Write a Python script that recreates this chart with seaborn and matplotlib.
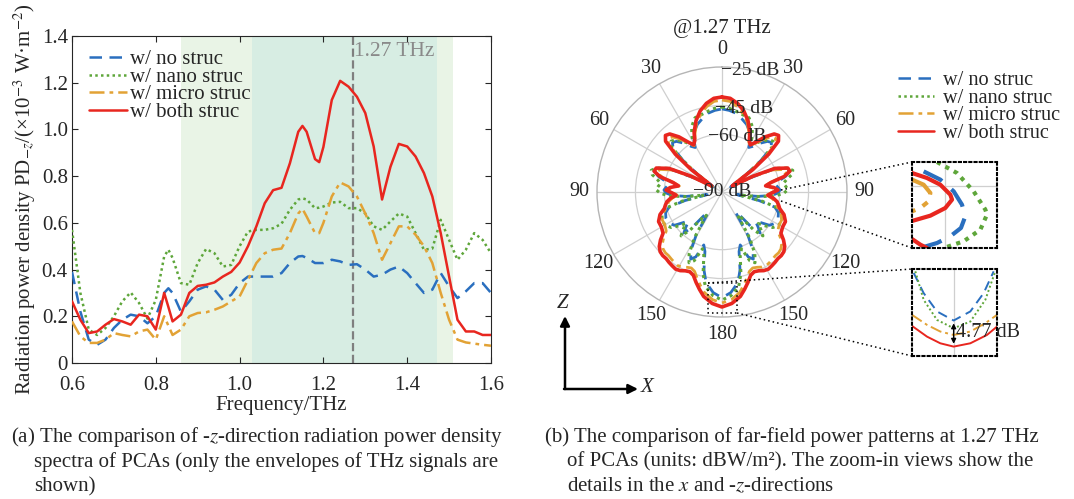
import numpy as np
import pandas as pd
import seaborn as sns
import matplotlib.pyplot as plt
from matplotlib.ticker import FuncFormatter

sns.set_style("ticks")
plt.rcParams['font.family'] = ['Liberation Serif', 'DejaVu Sans']
plt.rcParams['mathtext.fontset'] = 'stix'

# ---------------------------------------------------------
# DATA (a): spectra, x10^-3 W/m^2
# ---------------------------------------------------------
freq = [0.60, 0.62, 0.64, 0.66, 0.68, 0.70, 0.72, 0.74, 0.76, 0.78, 0.80, 0.82, 0.83,
        0.84, 0.86, 0.88, 0.90, 0.92, 0.94, 0.96, 0.98, 1.00, 1.02, 1.04, 1.06, 1.08,
        1.10, 1.12, 1.14, 1.15, 1.16, 1.18, 1.19, 1.20, 1.22, 1.24, 1.26, 1.28, 1.30,
        1.32, 1.34, 1.36, 1.38, 1.40, 1.42, 1.44, 1.46, 1.48, 1.50, 1.52, 1.54, 1.56,
        1.58, 1.60]
pd_none = [0.390, 0.220, 0.100, 0.078, 0.100, 0.150, 0.185, 0.207, 0.200, 0.170, 0.200, 0.300, 0.320,
           0.300, 0.220, 0.264, 0.314, 0.328, 0.314, 0.270, 0.292, 0.342, 0.370, 0.370, 0.370, 0.370,
           0.385, 0.428, 0.456, 0.458, 0.450, 0.428, 0.428, 0.428, 0.442, 0.435, 0.420, 0.423, 0.400,
           0.370, 0.378, 0.400, 0.413, 0.385, 0.342, 0.300, 0.314, 0.385, 0.328, 0.278, 0.307, 0.342,
           0.342, 0.300]
pd_nano = [0.570, 0.300, 0.143, 0.120, 0.150, 0.200, 0.264, 0.302, 0.257, 0.190, 0.270, 0.456, 0.485,
           0.450, 0.342, 0.335, 0.428, 0.488, 0.470, 0.413, 0.420, 0.500, 0.563, 0.570, 0.570, 0.577,
           0.596, 0.656, 0.700, 0.705, 0.700, 0.663, 0.665, 0.670, 0.687, 0.690, 0.663, 0.663, 0.640,
           0.585, 0.570, 0.606, 0.640, 0.627, 0.556, 0.485, 0.490, 0.613, 0.527, 0.442, 0.485, 0.556,
           0.527, 0.470]
pd_micro = [0.178, 0.114, 0.086, 0.086, 0.100, 0.128, 0.120, 0.114, 0.135, 0.143, 0.100, 0.200, 0.160,
            0.120, 0.143, 0.200, 0.214, 0.217, 0.228, 0.242, 0.264, 0.285, 0.356, 0.428, 0.470, 0.485,
            0.490, 0.556, 0.640, 0.660, 0.627, 0.556, 0.556, 0.600, 0.713, 0.773, 0.756, 0.713, 0.640,
            0.556, 0.442, 0.513, 0.585, 0.585, 0.549, 0.500, 0.428, 0.300, 0.185, 0.100, 0.088, 0.083,
            0.078, 0.074]
pd_both = [0.264, 0.185, 0.128, 0.135, 0.164, 0.188, 0.178, 0.164, 0.207, 0.200, 0.143, 0.300, 0.240,
           0.178, 0.207, 0.300, 0.330, 0.335, 0.345, 0.370, 0.390, 0.430, 0.500, 0.585, 0.684, 0.740,
           0.750, 0.855, 0.990, 1.015, 0.990, 0.873, 0.860, 0.925, 1.126, 1.208, 1.183, 1.140, 1.070,
           0.927, 0.700, 0.840, 0.938, 0.927, 0.884, 0.813, 0.713, 0.556, 0.370, 0.185, 0.135, 0.135,
           0.120, 0.120]

band_outer = (0.86, 1.51)
band_inner = (1.03, 1.47)
f_mark = 1.27

# ---------------------------------------------------------
# DATA (b): far-field pattern, dB (half pattern 0..180 deg, symmetric)
# ---------------------------------------------------------
ang = [0, 5, 10, 15, 20, 25, 28, 31, 34, 38, 42, 45, 48, 51, 54, 57, 60, 63, 66, 70, 73, 76, 79,
       82, 85, 88, 91, 94, 97, 100, 103, 106, 110, 115, 120, 125, 128, 131, 134, 137, 140, 143,
       146, 149, 152, 155, 158, 161, 164, 167, 170, 175, 180]
ff_none = [-46.8, -47.4, -48.4, -50.5, -52.6, -55.7, -58.8, -63.0, -61.4, -57.8, -54.6, -53.6, -55.7,
           -64.0, -74.4, -83.8, -84.8, -74.4, -61.4, -55.7, -53.6, -55.7, -59.8, -61.9, -60.9, -59.8,
           -60.9, -64.0, -71.3, -82.2, -70.2, -61.4, -58.8, -57.8, -57.8, -59.8, -64.0, -67.1, -64.0,
           -60.9, -66.1, -75.4, -77.5, -64.0, -55.7, -51.5, -53.6, -60.9, -57.8, -48.4, -42.2, -37.5,
           -35.0]
ff_nano = [-45.8, -46.3, -47.4, -48.4, -48.9, -52.6, -56.7, -60.9, -59.8, -56.2, -53.6, -52.6, -54.6,
           -63.0, -73.4, -82.7, -83.8, -72.8, -59.8, -53.6, -51.5, -52.6, -55.7, -57.8, -56.7, -55.7,
           -57.8, -61.9, -70.2, -80.6, -68.2, -59.8, -56.7, -55.7, -55.7, -57.8, -61.4, -65.0, -61.9,
           -58.8, -64.0, -73.4, -75.4, -61.9, -53.6, -49.4, -51.5, -58.8, -55.7, -46.3, -40.1, -35.9,
           -33.8]
ff_micro = [-42.2, -42.7, -44.8, -47.9, -51.5, -56.7, -60.4, -61.9, -59.8, -55.2, -51.5, -50.5, -52.6,
            -60.9, -72.3, -82.7, -84.3, -73.4, -61.9, -55.7, -54.6, -57.8, -64.5, -67.6, -64.0, -61.9,
            -64.5, -66.6, -64.0, -61.9, -60.9, -59.8, -57.2, -55.7, -55.7, -54.6, -51.5, -48.9, -47.4,
            -46.8, -46.8, -46.3, -45.8, -45.3, -45.8, -46.8, -47.4, -46.3, -43.2, -40.1, -37.0, -33.8,
            -32.3]
ff_both = [-40.6, -41.1, -43.2, -46.3, -50.5, -55.7, -59.8, -61.4, -58.8, -53.6, -49.4, -48.4, -50.5,
           -58.8, -70.2, -81.7, -83.8, -71.8, -59.8, -53.6, -53.1, -56.7, -64.0, -67.1, -63.0, -60.9,
           -64.0, -66.1, -63.0, -60.9, -59.8, -58.8, -55.7, -53.6, -53.6, -52.6, -49.4, -46.8, -45.3,
           -44.8, -44.8, -44.2, -43.7, -43.2, -43.7, -44.8, -45.3, -44.2, -41.1, -38.0, -34.9, -31.8,
           -30.2]
r_ticks = [-90, -60, -45, -25]

# zoom-in views (box coords 0..1)
zx_none_x = [0.137, 0.333, 0.490, 0.588, 0.627, 0.576, 0.451, 0.294, 0.098]
zx_none_y = [0.891, 0.795, 0.659, 0.504, 0.368, 0.233, 0.136, 0.058, 0.000]
zx_nano_x = [0.294, 0.529, 0.725, 0.863, 0.882, 0.804, 0.608, 0.373]
zx_nano_y = [1.000, 0.872, 0.659, 0.446, 0.388, 0.213, 0.078, 0.000]
zx_micro_x = [0.000, 0.137, 0.216, 0.196, 0.098, 0.000]
zx_micro_y = [0.795, 0.736, 0.640, 0.543, 0.465, 0.426]
zx_both_x = [0.000, 0.176, 0.333, 0.451, 0.471, 0.392, 0.216, 0.000]
zx_both_y = [0.872, 0.814, 0.736, 0.620, 0.562, 0.465, 0.376, 0.314]
zx_both2_x = [0.000, 0.098, 0.176]
zx_both2_y = [0.105, 0.039, 0.000]

zz_none_x = [0.020, 0.137, 0.294, 0.490, 0.686, 0.843, 0.961]
zz_none_y = [0.954, 0.723, 0.512, 0.408, 0.512, 0.723, 0.973]
zz_nano_x = [0.039, 0.137, 0.294, 0.490, 0.686, 0.863, 0.980]
zz_nano_y = [0.973, 0.646, 0.415, 0.319, 0.396, 0.646, 0.973]
zz_micro_x = [0.000, 0.176, 0.333, 0.490, 0.686, 0.863, 1.000]
zz_micro_y = [0.473, 0.358, 0.281, 0.242, 0.281, 0.377, 0.473]
zz_both_x = [0.000, 0.176, 0.333, 0.490, 0.686, 0.882, 1.000]
zz_both_y = [0.346, 0.223, 0.146, 0.108, 0.146, 0.242, 0.338]

labels = ['w/ no struc', 'w/ nano struc', 'w/ micro struc', 'w/ both struc']
colors = ['#2a6fbf', '#5ea63a', '#e2a235', '#e8261f']
dash_pat = [(5, 3), (1, 1.3), (6, 2, 1.5, 2), None]

W, H = 1074, 499
def box(l, t, r, b):
    return [l / W, 1 - b / H, (r - l) / W, (b - t) / H]

def style_line(line, i):
    if dash_pat[i] is not None:
        line.set_dashes(dash_pat[i])

fig = plt.figure(figsize=(W / 100, H / 100), dpi=100)

# ---------------------------------------------------------
# (a) spectra
# ---------------------------------------------------------
ax = fig.add_axes(box(72, 36, 491, 363))
ax.axvspan(*band_outer, color='#e9f4e6', lw=0, zorder=0)
ax.axvspan(*band_inner, color='#d7ede3', lw=0, zorder=0)
ax.axvline(f_mark, color='#7f7f7f', ls='--', lw=1.6, zorder=1)
ax.text(f_mark + 0.004, 1.335, '1.27 THz', color='#8a8a8a', fontsize=15.5, va='center', ha='left')

series = [pd_none, pd_nano, pd_micro, pd_both]
handles = []
for i, vals in enumerate(series):
    n0 = len(ax.lines)
    sns.lineplot(x=freq, y=vals, ax=ax, color=colors[i], lw=1.8, sort=False, estimator=None, zorder=3 + i)
    ln = ax.lines[n0]
    style_line(ln, i)
    handles.append(ln)

ax.set_xlim(0.6, 1.6)
ax.set_ylim(0, 1.4)
ax.set_xticks(np.arange(0.6, 1.61, 0.2))
ax.set_yticks(np.arange(0, 1.41, 0.2))
ax.xaxis.set_major_formatter(FuncFormatter(lambda v, p: f'{v:.1f}'))
ax.yaxis.set_major_formatter(FuncFormatter(lambda v, p: '0' if abs(v) < 1e-9 else f'{v:.1f}'))
ax.tick_params(direction='in', top=True, right=True, labelsize=15, length=4, width=0.8, pad=3)
ax.tick_params(axis='x', pad=9)
for s in ax.spines.values():
    s.set_linewidth(0.8)
ax.set_xlabel('Frequency/THz', fontsize=15, labelpad=1)
ax.set_ylabel('Radiation power density PD$_{-z}$/(×10$^{-3}$ W·m$^{-2}$)', fontsize=15, labelpad=3)
ax.legend(handles, labels, loc='upper left', bbox_to_anchor=(0.01, 0.996), frameon=False,
          fontsize=15, handlelength=1.85, handletextpad=0.15, labelspacing=-0.1, borderaxespad=0.2)

# ---------------------------------------------------------
# (b) far-field polar pattern
# ---------------------------------------------------------
axp = fig.add_axes(box(597, 67, 847, 317), projection='polar')
axp.set_theta_zero_location('N')
axp.set_theta_direction(-1)
ang_a = np.array(ang, dtype=float)
theta_full = np.deg2rad(np.concatenate([ang_a, 360 - ang_a[::-1][1:]]))
ff_series = [ff_none, ff_nano, ff_micro, ff_both]
widths = [2.0, 2.2, 2.0, 2.6]
for i, vals in enumerate(ff_series):
    v = np.array(vals)
    r_full = np.concatenate([v, v[::-1][1:]])
    n0 = len(axp.lines)
    sns.lineplot(x=theta_full, y=r_full, ax=axp, color=colors[i], lw=widths[i], sort=False,
                 estimator=None, zorder=3 + i)
    style_line(axp.lines[n0], i)

axp.set_ylim(r_ticks[0], r_ticks[-1])
axp.set_yticks(r_ticks[1:3])
axp.set_yticklabels([])
axp.set_xticks(np.deg2rad(np.arange(0, 360, 30)))
axp.set_xticklabels(['0', '30', '60', '90', '120', '150', '180', '150', '120', '90', '60', '30'])
axp.tick_params(axis='x', labelsize=14.5, pad=2)
axp.grid(True, color='#cfcfcf', lw=0.9)
axp.spines['polar'].set_color('#b5b5b5')
axp.spines['polar'].set_linewidth(1.0)
axp.set_xlabel('')
axp.set_ylabel('')
for rv, off in zip(r_ticks, [0, 15, 15, 13]):
    txt = f'\u2212{abs(rv)} dB'
    axp.text(np.deg2rad(off), rv, txt, fontsize=14, ha='center', va='center', zorder=10)

fig.legend(handles, labels, loc='upper left', bbox_to_anchor=(890 / W, 1 - 63 / H), frameon=False,
           fontsize=14.6, handlelength=1.75, handletextpad=0.45, labelspacing=-0.08, borderaxespad=0)

# zoom-in views
ax1 = fig.add_axes(box(912, 162, 997, 248))
ax1.axvline(0.39, color='#cfcfcf', lw=0.9)
ax1.axhline(0.72, color='#cfcfcf', lw=0.9)
for i, (xs, ys) in enumerate([(zx_none_x, zx_none_y), (zx_nano_x, zx_nano_y),
                              (zx_micro_x, zx_micro_y), (zx_both_x, zx_both_y), (zx_both2_x, zx_both2_y)]):
    k = min(i, 3)
    n0 = len(ax1.lines)
    sns.lineplot(x=xs, y=ys, ax=ax1, color=colors[k], lw=3.0, sort=False, estimator=None)
    style_line(ax1.lines[n0], k)

ax2 = fig.add_axes(box(912, 269, 997, 356))
ax2.axvline(0.49, color='#cfcfcf', lw=0.9)
for i, (xs, ys) in enumerate([(zz_none_x, zz_none_y), (zz_nano_x, zz_nano_y),
                              (zz_micro_x, zz_micro_y), (zz_both_x, zz_both_y)]):
    n0 = len(ax2.lines)
    sns.lineplot(x=xs, y=ys, ax=ax2, color=colors[i], lw=1.4, sort=False, estimator=None)
    style_line(ax2.lines[n0], i)
ax2.annotate('', xy=(0.49, zz_both_y[3]), xytext=(0.49, zz_none_y[3]),
             arrowprops=dict(arrowstyle='<|-|>', lw=1.0, color='k', mutation_scale=7))
ax2.text(0.52, 0.27, '4.77 dB', fontsize=14.5, ha='left', va='center', clip_on=False, zorder=10)

for a in (ax1, ax2):
    a.set_xlim(0, 1)
    a.set_ylim(0, 1)
    a.set_xticks([])
    a.set_yticks([])
    a.set_xlabel('')
    a.set_ylabel('')
    for s in a.spines.values():
        s.set_linestyle((0, (1, 1.5)))
        s.set_linewidth(1.5)
        s.set_color('k')

# overlay: title, connectors, axes arrows, captions (pixel coords)
ov = fig.add_axes([0, 0, 1, 1])
ov.set_xlim(0, W)
ov.set_ylim(H, 0)
ov.axis('off')
ov.patch.set_alpha(0)
ov.text(722, 28, '@1.27 THz', fontsize=15, ha='center', va='center')

dot = dict(color='k', ls=(0, (1, 2)), lw=1.1)
ov.plot([781, 912], [190, 162], **dot)
ov.plot([781, 912], [201, 248], **dot)
ov.plot([708, 737, 737, 708, 708], [283, 283, 313, 313, 283], **dot)
ov.plot([708, 912], [283, 269], **dot)
ov.plot([737, 912], [313, 356], **dot)

ov.annotate('', xy=(565, 316), xytext=(565, 389),
            arrowprops=dict(arrowstyle='-|>', lw=1.8, color='k', mutation_scale=14, shrinkA=0, shrinkB=0))
ov.annotate('', xy=(638, 389), xytext=(564, 389),
            arrowprops=dict(arrowstyle='-|>', lw=1.8, color='k', mutation_scale=14, shrinkA=0, shrinkB=0))
ov.text(563, 304, 'Z', fontsize=15, style='italic', ha='center', va='center')
ov.text(647, 388, 'X', fontsize=15, style='italic', ha='center', va='center')

cap = dict(fontsize=15, ha='left', va='center')
ov.text(11, 437, '(a) The comparison of -$z$-direction radiation power density', **cap)
ov.text(34, 462, 'spectra of PCAs (only the envelopes of THz signals are', **cap)
ov.text(34, 487, 'shown)', **cap)
ov.text(545, 437, '(b) The comparison of far-field power patterns at 1.27 THz', **cap)
ov.text(567, 462, 'of PCAs (units: dBW/m²). The zoom-in views show the', **cap)
ov.text(567, 487, 'details in the $x$ and -$z$-directions', **cap)

fig.savefig('out.png', dpi=100)
